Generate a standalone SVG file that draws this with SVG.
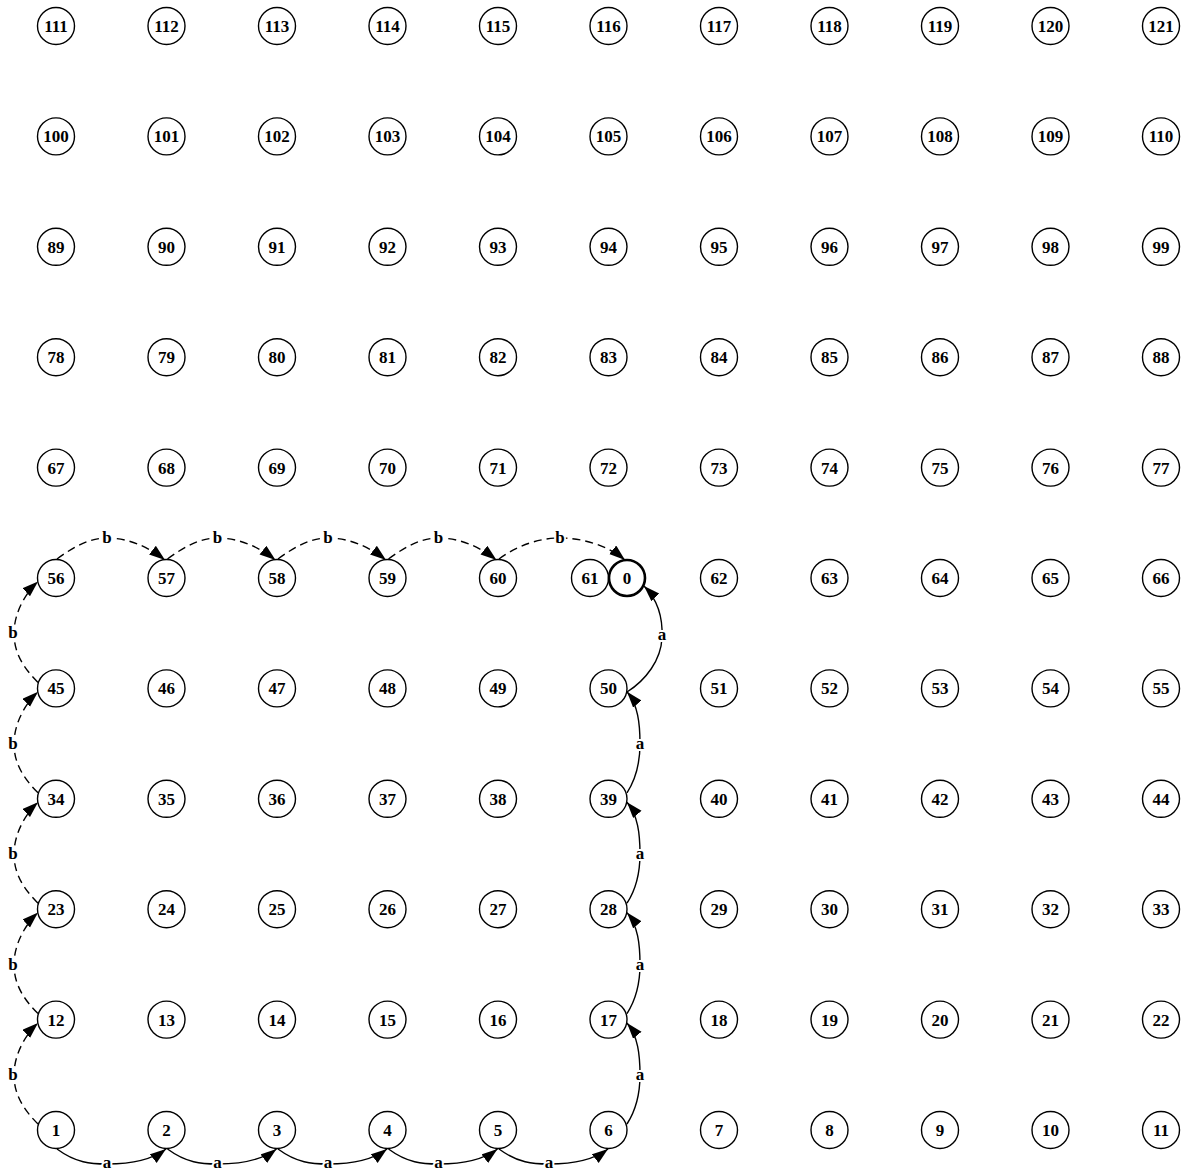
<svg xmlns="http://www.w3.org/2000/svg" width="1187" height="1173" viewBox="0 0 1187 1173">
<style>
.node circle{fill:#fff;stroke:#000;stroke-width:1.4}
.node text,.lbl{font-family:"Liberation Serif","Times New Roman",serif;font-weight:bold;font-size:17px;text-anchor:middle;fill:#000}
.e{fill:none;stroke:#000;stroke-width:1.4}
.d{stroke-dasharray:8,5}
.lbl{paint-order:stroke;stroke:#fff;stroke-width:4px}
#n0 circle{stroke-width:2.6}
</style>
<defs>
<marker id="ah" markerUnits="userSpaceOnUse" markerWidth="17" markerHeight="12" refX="16" refY="5.5" orient="auto">
<path d="M0,0 L16,5.5 L0,11 z" fill="#000"/>
</marker>
</defs>
<rect width="1187" height="1173" fill="#fff"/>
<g id="edges">
<path class="e" marker-end="url(#ah)" d="M57,1149 C76,1163 91,1164 107,1164 C126,1164 149,1162 166,1149"/>
<path class="e" marker-end="url(#ah)" d="M167.5,1149 C186.5,1163 201.5,1164 217.5,1164 C236.5,1164 259.5,1162 276.5,1149"/>
<path class="e" marker-end="url(#ah)" d="M278,1149 C297,1163 312,1164 328,1164 C347,1164 370,1162 387,1149"/>
<path class="e" marker-end="url(#ah)" d="M388.5,1149 C407.5,1163 422.5,1164 438.5,1164 C457.5,1164 480.5,1162 497.5,1149"/>
<path class="e" marker-end="url(#ah)" d="M499,1149 C518,1163 533,1164 549,1164 C568,1164 591,1162 608,1149"/>
<text class="lbl" x="107" y="1168">a</text>
<text class="lbl" x="217.5" y="1168">a</text>
<text class="lbl" x="328" y="1168">a</text>
<text class="lbl" x="438.5" y="1168">a</text>
<text class="lbl" x="549" y="1168">a</text>
<path class="e" marker-end="url(#ah)" d="M627,1124 C636,1110 640,1095 640,1075 C640,1055 638,1036 627,1023"/>
<path class="e" marker-end="url(#ah)" d="M627,1013.6 C636,999.6 640,984.6 640,964.6 C640,944.6 638,925.6 627,912.6"/>
<path class="e" marker-end="url(#ah)" d="M627,903.2 C636,889.2 640,874.2 640,854.2 C640,834.2 638,815.2 627,802.2"/>
<path class="e" marker-end="url(#ah)" d="M627,792.8 C636,778.8 640,763.8 640,743.8 C640,723.8 638,704.8 627,691.8"/>
<path class="e" marker-end="url(#ah)" d="M627,692 C646,680 661,660 662,638 C663,618 658,600 644,586"/>
<text class="lbl" x="640" y="1080">a</text>
<text class="lbl" x="640" y="969.6">a</text>
<text class="lbl" x="640" y="859.2">a</text>
<text class="lbl" x="640" y="748.8">a</text>
<text class="lbl" x="662" y="640">a</text>
<path class="e d" marker-end="url(#ah)" d="M38,1124 C24,1110 14,1095 14,1075 C14,1055 25,1035 38,1023"/>
<path class="e d" marker-end="url(#ah)" d="M38,1013.6 C24,999.6 14,984.6 14,964.6 C14,944.6 25,924.6 38,912.6"/>
<path class="e d" marker-end="url(#ah)" d="M38,903.2 C24,889.2 14,874.2 14,854.2 C14,834.2 25,814.2 38,802.2"/>
<path class="e d" marker-end="url(#ah)" d="M38,792.8 C24,778.8 14,763.8 14,743.8 C14,723.8 25,703.8 38,691.8"/>
<path class="e d" marker-end="url(#ah)" d="M38,682.4 C24,668.4 14,653.4 14,633.4 C14,613.4 25,593.4 38,581.4"/>
<text class="lbl" x="13" y="1080">b</text>
<text class="lbl" x="13" y="969.6">b</text>
<text class="lbl" x="13" y="859.2">b</text>
<text class="lbl" x="13" y="748.8">b</text>
<text class="lbl" x="13" y="638.4">b</text>
<path class="e d" marker-end="url(#ah)" d="M57,559 C76,545 91,538 107,538 C126,538 146,545 165,560"/>
<path class="e d" marker-end="url(#ah)" d="M167.5,559 C186.5,545 201.5,538 217.5,538 C236.5,538 256.5,545 275.5,560"/>
<path class="e d" marker-end="url(#ah)" d="M278,559 C297,545 312,538 328,538 C347,538 367,545 386,560"/>
<path class="e d" marker-end="url(#ah)" d="M388.5,559 C407.5,545 422.5,538 438.5,538 C457.5,538 477.5,545 496.5,560"/>
<path class="e d" marker-end="url(#ah)" d="M499,559 C518,545 540,538 560,538 C582,538 607,545 625,560"/>
<text class="lbl" x="107" y="543">b</text>
<text class="lbl" x="217.5" y="543">b</text>
<text class="lbl" x="328" y="543">b</text>
<text class="lbl" x="438.5" y="543">b</text>
<text class="lbl" x="560" y="543">b</text>
</g>
<g id="nodes">
<g class="node" id="n111" transform="translate(56,26)"><circle r="18.5"/><text y="6">111</text></g>
<g class="node" id="n112" transform="translate(166.5,26)"><circle r="18.5"/><text y="6">112</text></g>
<g class="node" id="n113" transform="translate(277,26)"><circle r="18.5"/><text y="6">113</text></g>
<g class="node" id="n114" transform="translate(387.5,26)"><circle r="18.5"/><text y="6">114</text></g>
<g class="node" id="n115" transform="translate(498,26)"><circle r="18.5"/><text y="6">115</text></g>
<g class="node" id="n116" transform="translate(608.5,26)"><circle r="18.5"/><text y="6">116</text></g>
<g class="node" id="n117" transform="translate(719,26)"><circle r="18.5"/><text y="6">117</text></g>
<g class="node" id="n118" transform="translate(829.5,26)"><circle r="18.5"/><text y="6">118</text></g>
<g class="node" id="n119" transform="translate(940,26)"><circle r="18.5"/><text y="6">119</text></g>
<g class="node" id="n120" transform="translate(1050.5,26)"><circle r="18.5"/><text y="6">120</text></g>
<g class="node" id="n121" transform="translate(1161,26)"><circle r="18.5"/><text y="6">121</text></g>
<g class="node" id="n100" transform="translate(56,136.4)"><circle r="18.5"/><text y="6">100</text></g>
<g class="node" id="n101" transform="translate(166.5,136.4)"><circle r="18.5"/><text y="6">101</text></g>
<g class="node" id="n102" transform="translate(277,136.4)"><circle r="18.5"/><text y="6">102</text></g>
<g class="node" id="n103" transform="translate(387.5,136.4)"><circle r="18.5"/><text y="6">103</text></g>
<g class="node" id="n104" transform="translate(498,136.4)"><circle r="18.5"/><text y="6">104</text></g>
<g class="node" id="n105" transform="translate(608.5,136.4)"><circle r="18.5"/><text y="6">105</text></g>
<g class="node" id="n106" transform="translate(719,136.4)"><circle r="18.5"/><text y="6">106</text></g>
<g class="node" id="n107" transform="translate(829.5,136.4)"><circle r="18.5"/><text y="6">107</text></g>
<g class="node" id="n108" transform="translate(940,136.4)"><circle r="18.5"/><text y="6">108</text></g>
<g class="node" id="n109" transform="translate(1050.5,136.4)"><circle r="18.5"/><text y="6">109</text></g>
<g class="node" id="n110" transform="translate(1161,136.4)"><circle r="18.5"/><text y="6">110</text></g>
<g class="node" id="n89" transform="translate(56,246.8)"><circle r="18.5"/><text y="6">89</text></g>
<g class="node" id="n90" transform="translate(166.5,246.8)"><circle r="18.5"/><text y="6">90</text></g>
<g class="node" id="n91" transform="translate(277,246.8)"><circle r="18.5"/><text y="6">91</text></g>
<g class="node" id="n92" transform="translate(387.5,246.8)"><circle r="18.5"/><text y="6">92</text></g>
<g class="node" id="n93" transform="translate(498,246.8)"><circle r="18.5"/><text y="6">93</text></g>
<g class="node" id="n94" transform="translate(608.5,246.8)"><circle r="18.5"/><text y="6">94</text></g>
<g class="node" id="n95" transform="translate(719,246.8)"><circle r="18.5"/><text y="6">95</text></g>
<g class="node" id="n96" transform="translate(829.5,246.8)"><circle r="18.5"/><text y="6">96</text></g>
<g class="node" id="n97" transform="translate(940,246.8)"><circle r="18.5"/><text y="6">97</text></g>
<g class="node" id="n98" transform="translate(1050.5,246.8)"><circle r="18.5"/><text y="6">98</text></g>
<g class="node" id="n99" transform="translate(1161,246.8)"><circle r="18.5"/><text y="6">99</text></g>
<g class="node" id="n78" transform="translate(56,357.2)"><circle r="18.5"/><text y="6">78</text></g>
<g class="node" id="n79" transform="translate(166.5,357.2)"><circle r="18.5"/><text y="6">79</text></g>
<g class="node" id="n80" transform="translate(277,357.2)"><circle r="18.5"/><text y="6">80</text></g>
<g class="node" id="n81" transform="translate(387.5,357.2)"><circle r="18.5"/><text y="6">81</text></g>
<g class="node" id="n82" transform="translate(498,357.2)"><circle r="18.5"/><text y="6">82</text></g>
<g class="node" id="n83" transform="translate(608.5,357.2)"><circle r="18.5"/><text y="6">83</text></g>
<g class="node" id="n84" transform="translate(719,357.2)"><circle r="18.5"/><text y="6">84</text></g>
<g class="node" id="n85" transform="translate(829.5,357.2)"><circle r="18.5"/><text y="6">85</text></g>
<g class="node" id="n86" transform="translate(940,357.2)"><circle r="18.5"/><text y="6">86</text></g>
<g class="node" id="n87" transform="translate(1050.5,357.2)"><circle r="18.5"/><text y="6">87</text></g>
<g class="node" id="n88" transform="translate(1161,357.2)"><circle r="18.5"/><text y="6">88</text></g>
<g class="node" id="n67" transform="translate(56,467.6)"><circle r="18.5"/><text y="6">67</text></g>
<g class="node" id="n68" transform="translate(166.5,467.6)"><circle r="18.5"/><text y="6">68</text></g>
<g class="node" id="n69" transform="translate(277,467.6)"><circle r="18.5"/><text y="6">69</text></g>
<g class="node" id="n70" transform="translate(387.5,467.6)"><circle r="18.5"/><text y="6">70</text></g>
<g class="node" id="n71" transform="translate(498,467.6)"><circle r="18.5"/><text y="6">71</text></g>
<g class="node" id="n72" transform="translate(608.5,467.6)"><circle r="18.5"/><text y="6">72</text></g>
<g class="node" id="n73" transform="translate(719,467.6)"><circle r="18.5"/><text y="6">73</text></g>
<g class="node" id="n74" transform="translate(829.5,467.6)"><circle r="18.5"/><text y="6">74</text></g>
<g class="node" id="n75" transform="translate(940,467.6)"><circle r="18.5"/><text y="6">75</text></g>
<g class="node" id="n76" transform="translate(1050.5,467.6)"><circle r="18.5"/><text y="6">76</text></g>
<g class="node" id="n77" transform="translate(1161,467.6)"><circle r="18.5"/><text y="6">77</text></g>
<g class="node" id="n56" transform="translate(56,578)"><circle r="18.5"/><text y="6">56</text></g>
<g class="node" id="n57" transform="translate(166.5,578)"><circle r="18.5"/><text y="6">57</text></g>
<g class="node" id="n58" transform="translate(277,578)"><circle r="18.5"/><text y="6">58</text></g>
<g class="node" id="n59" transform="translate(387.5,578)"><circle r="18.5"/><text y="6">59</text></g>
<g class="node" id="n60" transform="translate(498,578)"><circle r="18.5"/><text y="6">60</text></g>
<g class="node" id="n61" transform="translate(590,578)"><circle r="18.5"/><text y="6">61</text></g>
<g class="node" id="n0" transform="translate(627,578)"><circle r="18"/><text y="6">0</text></g>
<g class="node" id="n62" transform="translate(719,578)"><circle r="18.5"/><text y="6">62</text></g>
<g class="node" id="n63" transform="translate(829.5,578)"><circle r="18.5"/><text y="6">63</text></g>
<g class="node" id="n64" transform="translate(940,578)"><circle r="18.5"/><text y="6">64</text></g>
<g class="node" id="n65" transform="translate(1050.5,578)"><circle r="18.5"/><text y="6">65</text></g>
<g class="node" id="n66" transform="translate(1161,578)"><circle r="18.5"/><text y="6">66</text></g>
<g class="node" id="n45" transform="translate(56,688.4)"><circle r="18.5"/><text y="6">45</text></g>
<g class="node" id="n46" transform="translate(166.5,688.4)"><circle r="18.5"/><text y="6">46</text></g>
<g class="node" id="n47" transform="translate(277,688.4)"><circle r="18.5"/><text y="6">47</text></g>
<g class="node" id="n48" transform="translate(387.5,688.4)"><circle r="18.5"/><text y="6">48</text></g>
<g class="node" id="n49" transform="translate(498,688.4)"><circle r="18.5"/><text y="6">49</text></g>
<g class="node" id="n50" transform="translate(608.5,688.4)"><circle r="18.5"/><text y="6">50</text></g>
<g class="node" id="n51" transform="translate(719,688.4)"><circle r="18.5"/><text y="6">51</text></g>
<g class="node" id="n52" transform="translate(829.5,688.4)"><circle r="18.5"/><text y="6">52</text></g>
<g class="node" id="n53" transform="translate(940,688.4)"><circle r="18.5"/><text y="6">53</text></g>
<g class="node" id="n54" transform="translate(1050.5,688.4)"><circle r="18.5"/><text y="6">54</text></g>
<g class="node" id="n55" transform="translate(1161,688.4)"><circle r="18.5"/><text y="6">55</text></g>
<g class="node" id="n34" transform="translate(56,798.8)"><circle r="18.5"/><text y="6">34</text></g>
<g class="node" id="n35" transform="translate(166.5,798.8)"><circle r="18.5"/><text y="6">35</text></g>
<g class="node" id="n36" transform="translate(277,798.8)"><circle r="18.5"/><text y="6">36</text></g>
<g class="node" id="n37" transform="translate(387.5,798.8)"><circle r="18.5"/><text y="6">37</text></g>
<g class="node" id="n38" transform="translate(498,798.8)"><circle r="18.5"/><text y="6">38</text></g>
<g class="node" id="n39" transform="translate(608.5,798.8)"><circle r="18.5"/><text y="6">39</text></g>
<g class="node" id="n40" transform="translate(719,798.8)"><circle r="18.5"/><text y="6">40</text></g>
<g class="node" id="n41" transform="translate(829.5,798.8)"><circle r="18.5"/><text y="6">41</text></g>
<g class="node" id="n42" transform="translate(940,798.8)"><circle r="18.5"/><text y="6">42</text></g>
<g class="node" id="n43" transform="translate(1050.5,798.8)"><circle r="18.5"/><text y="6">43</text></g>
<g class="node" id="n44" transform="translate(1161,798.8)"><circle r="18.5"/><text y="6">44</text></g>
<g class="node" id="n23" transform="translate(56,909.2)"><circle r="18.5"/><text y="6">23</text></g>
<g class="node" id="n24" transform="translate(166.5,909.2)"><circle r="18.5"/><text y="6">24</text></g>
<g class="node" id="n25" transform="translate(277,909.2)"><circle r="18.5"/><text y="6">25</text></g>
<g class="node" id="n26" transform="translate(387.5,909.2)"><circle r="18.5"/><text y="6">26</text></g>
<g class="node" id="n27" transform="translate(498,909.2)"><circle r="18.5"/><text y="6">27</text></g>
<g class="node" id="n28" transform="translate(608.5,909.2)"><circle r="18.5"/><text y="6">28</text></g>
<g class="node" id="n29" transform="translate(719,909.2)"><circle r="18.5"/><text y="6">29</text></g>
<g class="node" id="n30" transform="translate(829.5,909.2)"><circle r="18.5"/><text y="6">30</text></g>
<g class="node" id="n31" transform="translate(940,909.2)"><circle r="18.5"/><text y="6">31</text></g>
<g class="node" id="n32" transform="translate(1050.5,909.2)"><circle r="18.5"/><text y="6">32</text></g>
<g class="node" id="n33" transform="translate(1161,909.2)"><circle r="18.5"/><text y="6">33</text></g>
<g class="node" id="n12" transform="translate(56,1019.6)"><circle r="18.5"/><text y="6">12</text></g>
<g class="node" id="n13" transform="translate(166.5,1019.6)"><circle r="18.5"/><text y="6">13</text></g>
<g class="node" id="n14" transform="translate(277,1019.6)"><circle r="18.5"/><text y="6">14</text></g>
<g class="node" id="n15" transform="translate(387.5,1019.6)"><circle r="18.5"/><text y="6">15</text></g>
<g class="node" id="n16" transform="translate(498,1019.6)"><circle r="18.5"/><text y="6">16</text></g>
<g class="node" id="n17" transform="translate(608.5,1019.6)"><circle r="18.5"/><text y="6">17</text></g>
<g class="node" id="n18" transform="translate(719,1019.6)"><circle r="18.5"/><text y="6">18</text></g>
<g class="node" id="n19" transform="translate(829.5,1019.6)"><circle r="18.5"/><text y="6">19</text></g>
<g class="node" id="n20" transform="translate(940,1019.6)"><circle r="18.5"/><text y="6">20</text></g>
<g class="node" id="n21" transform="translate(1050.5,1019.6)"><circle r="18.5"/><text y="6">21</text></g>
<g class="node" id="n22" transform="translate(1161,1019.6)"><circle r="18.5"/><text y="6">22</text></g>
<g class="node" id="n1" transform="translate(56,1130)"><circle r="18.5"/><text y="6">1</text></g>
<g class="node" id="n2" transform="translate(166.5,1130)"><circle r="18.5"/><text y="6">2</text></g>
<g class="node" id="n3" transform="translate(277,1130)"><circle r="18.5"/><text y="6">3</text></g>
<g class="node" id="n4" transform="translate(387.5,1130)"><circle r="18.5"/><text y="6">4</text></g>
<g class="node" id="n5" transform="translate(498,1130)"><circle r="18.5"/><text y="6">5</text></g>
<g class="node" id="n6" transform="translate(608.5,1130)"><circle r="18.5"/><text y="6">6</text></g>
<g class="node" id="n7" transform="translate(719,1130)"><circle r="18.5"/><text y="6">7</text></g>
<g class="node" id="n8" transform="translate(829.5,1130)"><circle r="18.5"/><text y="6">8</text></g>
<g class="node" id="n9" transform="translate(940,1130)"><circle r="18.5"/><text y="6">9</text></g>
<g class="node" id="n10" transform="translate(1050.5,1130)"><circle r="18.5"/><text y="6">10</text></g>
<g class="node" id="n11" transform="translate(1161,1130)"><circle r="18.5"/><text y="6">11</text></g>
</g>
</svg>
